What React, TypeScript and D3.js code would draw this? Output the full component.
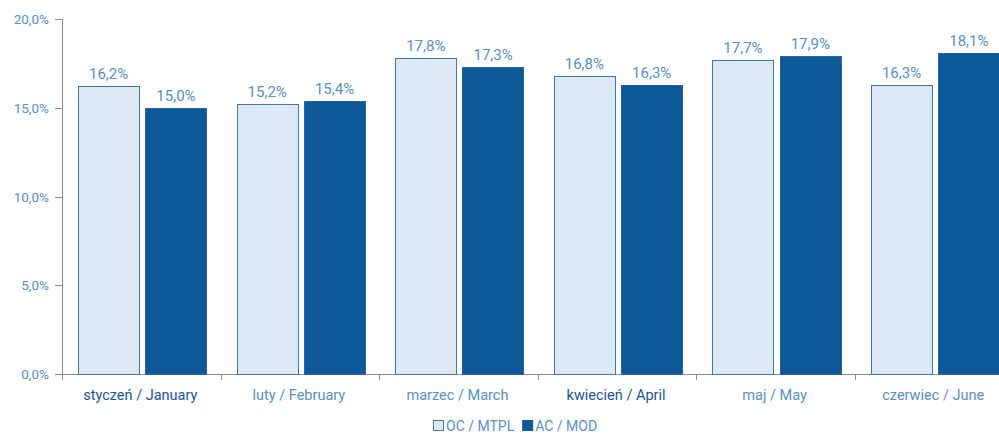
import { useEffect, useRef } from 'react'
import * as d3 from 'd3'

const categories = ['styczeń / January', 'luty / February', 'marzec / March', 'kwiecień / April', 'maj / May', 'czerwiec / June']
const seriesNames = ['OC / MTPL', 'AC / MOD']
const ocValues = [16.2, 15.2, 17.8, 16.8, 17.7, 16.3]
const acValues = [15.0, 15.4, 17.3, 16.3, 17.9, 18.1]
const yTicks = [0, 5, 10, 15, 20]

const fmt = (v: number, digits: number) => v.toFixed(digits).replace('.', ',') + '%'

export default function App() {
  const svgRef = useRef<SVGSVGElement>(null)

  useEffect(() => {
    if (!svgRef.current) return
    const svg = d3.select(svgRef.current)
    svg.selectAll('*').remove()

    const width = 999
    const left = 62
    const top = 19
    const bottom = 374
    const font = 'Roboto, "DejaVu Sans", sans-serif'
    const lightText = '#5b8fc6'
    const darkText = '#1c5696'
    const ocFill = '#dde9f5'
    const ocStroke = '#3f77b0'
    const acFill = '#0d5899'

    const x = d3.scaleBand<string>().domain(categories).range([left, 1013.5]).paddingInner(0).paddingOuter(0)
    const inner = d3.scaleBand<number>().domain([0, 1]).range([16, x.bandwidth() - 14]).paddingInner(0.09)
    const y = d3.scaleLinear().domain([0, 20]).range([bottom, top])

    const g = svg.append('g')

    // y axis
    g.append('line')
      .attr('x1', left + 0.5).attr('x2', left + 0.5)
      .attr('y1', y(20)).attr('y2', bottom)
      .attr('stroke', '#8c8c8c')
    yTicks.forEach(t => {
      g.append('line')
        .attr('x1', left - 7).attr('x2', left)
        .attr('y1', Math.round(y(t)) + 0.5).attr('y2', Math.round(y(t)) + 0.5)
        .attr('stroke', '#8c8c8c')
      g.append('text')
        .attr('x', 49).attr('y', y(t) + 5)
        .attr('text-anchor', 'end')
        .attr('font-family', font).attr('font-size', 13.5)
        .attr('fill', lightText)
        .text(fmt(t, 1))
    })

    // x axis
    g.append('line')
      .attr('x1', left).attr('x2', width)
      .attr('y1', bottom + 0.5).attr('y2', bottom + 0.5)
      .attr('stroke', '#8c8c8c')
    categories.forEach((c, i) => {
      const bx = Math.round(x(c)!) + 0.5
      g.append('line')
        .attr('x1', bx).attr('x2', bx)
        .attr('y1', bottom).attr('y2', bottom + 6)
        .attr('stroke', '#8c8c8c')
      g.append('text')
        .attr('x', x(c)! + x.bandwidth() / 2 - 1)
        .attr('y', 400)
        .attr('text-anchor', 'middle')
        .attr('font-family', font).attr('font-size', 14.5)
        .attr('fill', i === 0 || i === 3 ? darkText : lightText)
        .text(c)
    })

    // bars
    const series = [ocValues, acValues]
    series.forEach((vals, s) => {
      categories.forEach((c, i) => {
        const bx = x(c)! + inner(s)!
        const by = y(vals[i])
        g.append('rect')
          .attr('x', Math.round(bx) + 0.5)
          .attr('y', Math.round(by) + 0.5)
          .attr('width', Math.round(inner.bandwidth()))
          .attr('height', bottom - Math.round(by))
          .attr('fill', s === 0 ? ocFill : acFill)
          .attr('stroke', s === 0 ? ocStroke : '#2a65a0')
          .attr('stroke-width', 1)
        g.append('text')
          .attr('x', bx + inner.bandwidth() / 2)
          .attr('y', by - 7)
          .attr('text-anchor', 'middle')
          .attr('font-family', font).attr('font-size', 15)
          .attr('fill', lightText)
          .text(fmt(vals[i], 1))
      })
    })

    // legend
    const legend = svg.append('g').attr('transform', 'translate(433,420)')
    let lx = 0
    seriesNames.forEach((name, s) => {
      legend.append('rect')
        .attr('x', lx + 0.5).attr('y', 0.5)
        .attr('width', 10).attr('height', 10)
        .attr('fill', s === 0 ? ocFill : acFill)
        .attr('stroke', s === 0 ? ocStroke : acFill)
      const t = legend.append('text')
        .attr('x', lx + 13).attr('y', 10.5)
        .attr('font-family', font).attr('font-size', 14)
        .attr('fill', lightText)
        .text(name)
      const w = (t.node() as SVGTextElement).getComputedTextLength()
      lx += 13 + w + 8
    })
  }, [])

  return (
    <svg
      ref={svgRef}
      width={999}
      height={434}
      style={{ position: 'absolute', left: 0, top: 0, background: '#fff' }}
    />
  )
}
